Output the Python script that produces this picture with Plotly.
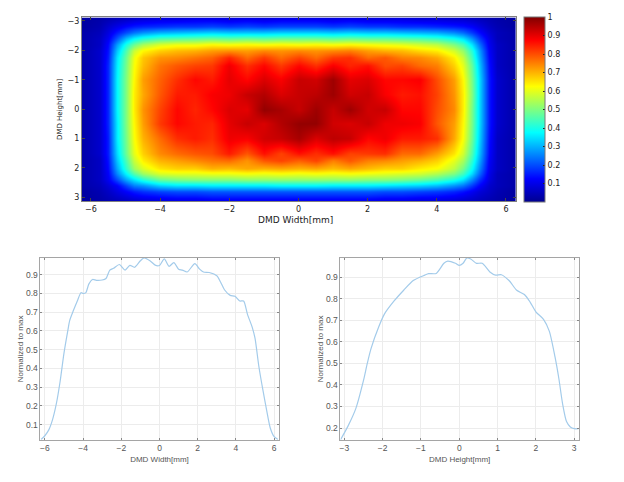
import plotly.graph_objects as go

W, H = 624, 482

map_x = [-6.25,-5.75,-5.5,-5.25,-5,-4.75,-4.5,-4,-3.5,-3,-2.5,-2,-1.5,-1,-0.5,0,0.5,1,1.5,2,2.5,3,3.5,4,4.5,4.75,5,5.25,5.5,5.75,6.25]
map_y = [-3.1,-2.8,-2.6,-2.4,-2.2,-2,-1.75,-1.5,-1,-0.5,0,0.5,1,1.5,1.75,2,2.2,2.4,2.6,2.8,3.1]
map_z = [
[.02,.03,.04,.05,.06,.07,.08,.09,.09,.10,.10,.09,.10,.09,.10,.10,.10,.09,.10,.09,.09,.09,.08,.08,.07,.07,.06,.05,.04,.03,.02],
[.02,.04,.07,.10,.13,.15,.16,.17,.18,.18,.19,.18,.19,.18,.19,.19,.19,.18,.19,.18,.18,.17,.17,.16,.15,.14,.12,.09,.06,.04,.02],
[.03,.05,.09,.15,.20,.24,.27,.30,.31,.32,.33,.32,.32,.32,.33,.33,.33,.32,.33,.32,.32,.31,.30,.29,.26,.23,.18,.13,.08,.05,.03],
[.03,.06,.11,.21,.31,.37,.41,.45,.46,.47,.48,.47,.48,.47,.48,.48,.48,.47,.48,.47,.47,.46,.45,.43,.39,.35,.27,.18,.10,.05,.03],
[.03,.06,.13,.28,.40,.48,.54,.59,.61,.61,.63,.62,.63,.62,.63,.62,.63,.62,.63,.62,.61,.60,.58,.56,.50,.45,.35,.23,.11,.06,.03],
[.03,.07,.14,.32,.45,.57,.63,.67,.69,.70,.72,.73,.72,.74,.73,.74,.73,.74,.75,.72,.70,.69,.66,.64,.58,.52,.41,.27,.12,.06,.03],
[.03,.07,.15,.35,.48,.61,.68,.73,.74,.76,.78,.84,.77,.82,.77,.81,.77,.82,.83,.77,.79,.75,.74,.71,.64,.57,.44,.29,.13,.06,.03],
[.03,.07,.16,.36,.49,.62,.69,.76,.79,.81,.82,.89,.83,.87,.82,.87,.83,.88,.84,.86,.80,.81,.77,.75,.67,.60,.47,.31,.14,.06,.03],
[.03,.07,.16,.37,.50,.63,.72,.78,.83,.87,.85,.90,.87,.91,.88,.93,.92,.97,.90,.91,.87,.87,.88,.80,.72,.63,.49,.33,.15,.07,.03],
[.03,.07,.16,.37,.50,.64,.71,.79,.85,.85,.88,.89,.93,.95,.91,.93,.94,.97,.92,.93,.88,.85,.86,.81,.73,.64,.50,.33,.15,.07,.03],
[.03,.07,.16,.37,.50,.64,.73,.81,.87,.84,.87,.91,.90,.98,.96,.93,.97,.93,.97,.92,.93,.87,.87,.80,.74,.64,.49,.33,.15,.07,.03],
[.03,.07,.16,.36,.50,.63,.72,.82,.87,.85,.84,.90,.93,.91,.95,.98,.98,.92,.91,.93,.89,.89,.88,.79,.72,.63,.49,.33,.15,.07,.03],
[.03,.07,.15,.36,.49,.62,.70,.77,.83,.85,.83,.89,.88,.92,.93,.96,.91,.94,.93,.87,.89,.85,.85,.83,.71,.62,.48,.32,.14,.06,.03],
[.03,.07,.15,.34,.48,.60,.67,.74,.77,.79,.80,.85,.79,.86,.81,.86,.83,.86,.81,.82,.83,.77,.77,.72,.65,.58,.45,.30,.13,.06,.03],
[.03,.06,.14,.32,.45,.57,.64,.70,.72,.74,.76,.77,.73,.79,.81,.78,.81,.75,.79,.75,.74,.72,.70,.67,.60,.54,.42,.28,.12,.06,.03],
[.03,.06,.13,.29,.42,.53,.59,.65,.67,.67,.70,.69,.71,.70,.71,.70,.71,.69,.71,.69,.67,.67,.64,.62,.56,.49,.38,.25,.11,.06,.03],
[.03,.06,.12,.26,.37,.46,.53,.59,.60,.60,.61,.61,.62,.61,.62,.61,.62,.61,.62,.61,.60,.59,.58,.55,.50,.44,.34,.22,.10,.05,.03],
[.03,.06,.11,.20,.29,.35,.41,.48,.50,.51,.51,.51,.52,.52,.52,.52,.52,.52,.52,.51,.51,.50,.48,.45,.40,.35,.26,.17,.09,.05,.03],
[.03,.05,.08,.12,.19,.25,.27,.33,.35,.35,.36,.36,.36,.36,.37,.37,.37,.36,.36,.36,.35,.34,.33,.31,.27,.24,.18,.12,.07,.05,.03],
[.02,.04,.06,.09,.12,.15,.17,.19,.20,.20,.21,.21,.21,.21,.21,.21,.21,.21,.21,.21,.20,.20,.19,.18,.16,.14,.11,.08,.06,.04,.02],
[.02,.03,.04,.05,.06,.07,.08,.09,.10,.10,.11,.11,.11,.11,.11,.11,.11,.11,.11,.11,.10,.10,.09,.09,.08,.07,.06,.05,.04,.03,.02],
]

width_x = [-6.2,-6,-5.8,-5.6,-5.4,-5.2,-5,-4.8,-4.7,-4.5,-4.3,-4.1,-4,-3.85,-3.7,-3.5,-3.3,-3,-2.8,-2.6,-2.4,-2.1,-1.8,-1.55,-1.3,-1,-.8,-.5,-.2,0,.25,.5,.75,1,1.2,1.45,1.85,2.1,2.3,2.6,3,3.2,3.4,3.7,3.95,4.2,4.4,4.6,4.85,5,5.2,5.4,5.6,5.8,6,6.2]
width_y = [.02,.04,.07,.125,.21,.33,.48,.60,.655,.71,.76,.805,.80,.805,.85,.875,.87,.872,.88,.925,.935,.955,.925,.95,.94,.975,.99,.975,.95,.95,.985,.945,.965,.93,.925,.915,.96,.93,.915,.912,.895,.86,.82,.79,.785,.76,.76,.69,.62,.56,.41,.29,.18,.08,.035,.02]

height_x = [-3.1,-2.9,-2.7,-2.5,-2.4,-2.3,-2.1,-1.95,-1.7,-1.45,-1.2,-.9,-.8,-.6,-.4,-.3,-.1,0,.1,.2,.3,.45,.6,.8,.95,1.1,1.3,1.5,1.7,1.85,2,2.2,2.35,2.5,2.6,2.7,2.8,2.9,3,3.12]
height_y = [.145,.21,.29,.42,.50,.57,.67,.73,.79,.84,.885,.91,.917,.918,.965,.975,.965,.955,.965,.99,.985,.965,.965,.925,.91,.912,.885,.84,.82,.785,.74,.705,.65,.53,.43,.31,.23,.205,.197,.197]

bar_ticks = [.1,.2,.3,.4,.5,.6,.7,.8,.9,1]
jet = [[0,"#00008f"],[.125,"#0000ff"],[.375,"#00ffff"],[.625,"#ffff00"],[.875,"#ff0000"],[1,"#800000"]]

def dx(a, b):
    return [a / W, b / W]
def dy(a, b):
    return [1 - b / H, 1 - a / H]

fig = go.Figure()
fig.add_trace(go.Heatmap(
    x=map_x, y=map_y, z=map_z, colorscale=jet, zmin=0, zmax=1, zsmooth="best",
    xaxis="x", yaxis="y", hoverinfo="skip",
    colorbar=dict(x=523.5 / W, xanchor="left", xpad=0, ypad=0, y=1 - 109 / H, yanchor="middle",
                  thickness=20.5, thicknessmode="pixels", len=184.5, lenmode="pixels",
                  tickvals=bar_ticks, ticktext=["0.1","0.2","0.3","0.4","0.5","0.6","0.7","0.8","0.9","1"],
                  ticks="inside", ticklen=2, tickcolor="#222", outlinecolor="#777", outlinewidth=1,
                  tickfont=dict(family="DejaVu Sans", size=8, color="#222")),
))
LINE = "#a3cbea"
fig.add_trace(go.Scatter(x=width_x, y=width_y, mode="lines", xaxis="x2", yaxis="y2",
                         line=dict(color=LINE, width=1.2, shape="spline", smoothing=0.7), showlegend=False))
fig.add_trace(go.Scatter(x=height_x, y=height_y, mode="lines", xaxis="x3", yaxis="y3",
                         line=dict(color=LINE, width=1.2, shape="spline", smoothing=0.7), showlegend=False))

top_font = dict(family="DejaVu Sans", size=8, color="#222")
top_axis = dict(showgrid=False, zeroline=False, ticks="inside", ticklen=3, tickcolor="#444",
                showline=True, linecolor="#808080", linewidth=1, mirror="ticks", tickfont=top_font)
low_font = dict(family="Liberation Sans", size=8.5, color="#555")
low_axis = dict(showgrid=True, gridcolor="#ececec", gridwidth=1, zeroline=False, ticks="inside", ticklen=2,
                tickcolor="#888", showline=True, linecolor="#a5a5a5", linewidth=1, mirror="ticks",
                tickfont=low_font)
tf = dict(family="Liberation Sans", size=8, color="#555")
tf_top = dict(family="DejaVu Sans", size=9, color="#222")
tf_top_y = dict(family="DejaVu Sans", size=7, color="#111")

fig.update_layout(
    width=W, height=H, margin=dict(l=0, r=0, t=0, b=0), paper_bgcolor="white", plot_bgcolor="white",
    showlegend=False,
    xaxis=dict(top_axis, domain=dx(81, 515.5), range=[-6.26, 6.28], tickvals=[-6,-4,-2,0,2,4,6]),
    yaxis=dict(top_axis, domain=dy(16.5, 201), range=[3.13, -3.12], tickvals=[-3,-2,-1,0,1,2,3],
               title=dict(text="DMD Height[mm]", font=tf_top_y, standoff=4)),
    xaxis2=dict(low_axis, domain=dx(39.5, 278), anchor="y2", range=[-6.23, 6.23], tickvals=[-6,-4,-2,0,2,4,6],
                title=dict(text="DMD Width[mm]", font=tf, standoff=4)),
    yaxis2=dict(low_axis, domain=dy(258, 440.7), anchor="x2", range=[0.018, 0.99],
                tickvals=[.1,.2,.3,.4,.5,.6,.7,.8,.9],
                title=dict(text="Normalized to max", font=tf, standoff=1)),
    xaxis3=dict(low_axis, domain=dx(340, 578.7), anchor="y3", range=[-3.1, 3.12], tickvals=[-3,-2,-1,0,1,2,3],
                title=dict(text="DMD Height[mm]", font=tf, standoff=4)),
    yaxis3=dict(low_axis, domain=dy(258, 440.7), anchor="x3", range=[0.145, 0.99],
                tickvals=[.2,.3,.4,.5,.6,.7,.8,.9],
                title=dict(text="Normalized to max", font=tf, standoff=1)),
    annotations=[dict(text="DMD Width[mm]", x=295 / W, y=1 - 220 / H, xref="paper", yref="paper",
                      xanchor="center", yanchor="middle", showarrow=False, font=tf_top)],
)
fig.write_html("out.html", config={"displayModeBar": False},
               post_script="document.body.style.margin='0';document.documentElement.style.overflow='hidden';")
